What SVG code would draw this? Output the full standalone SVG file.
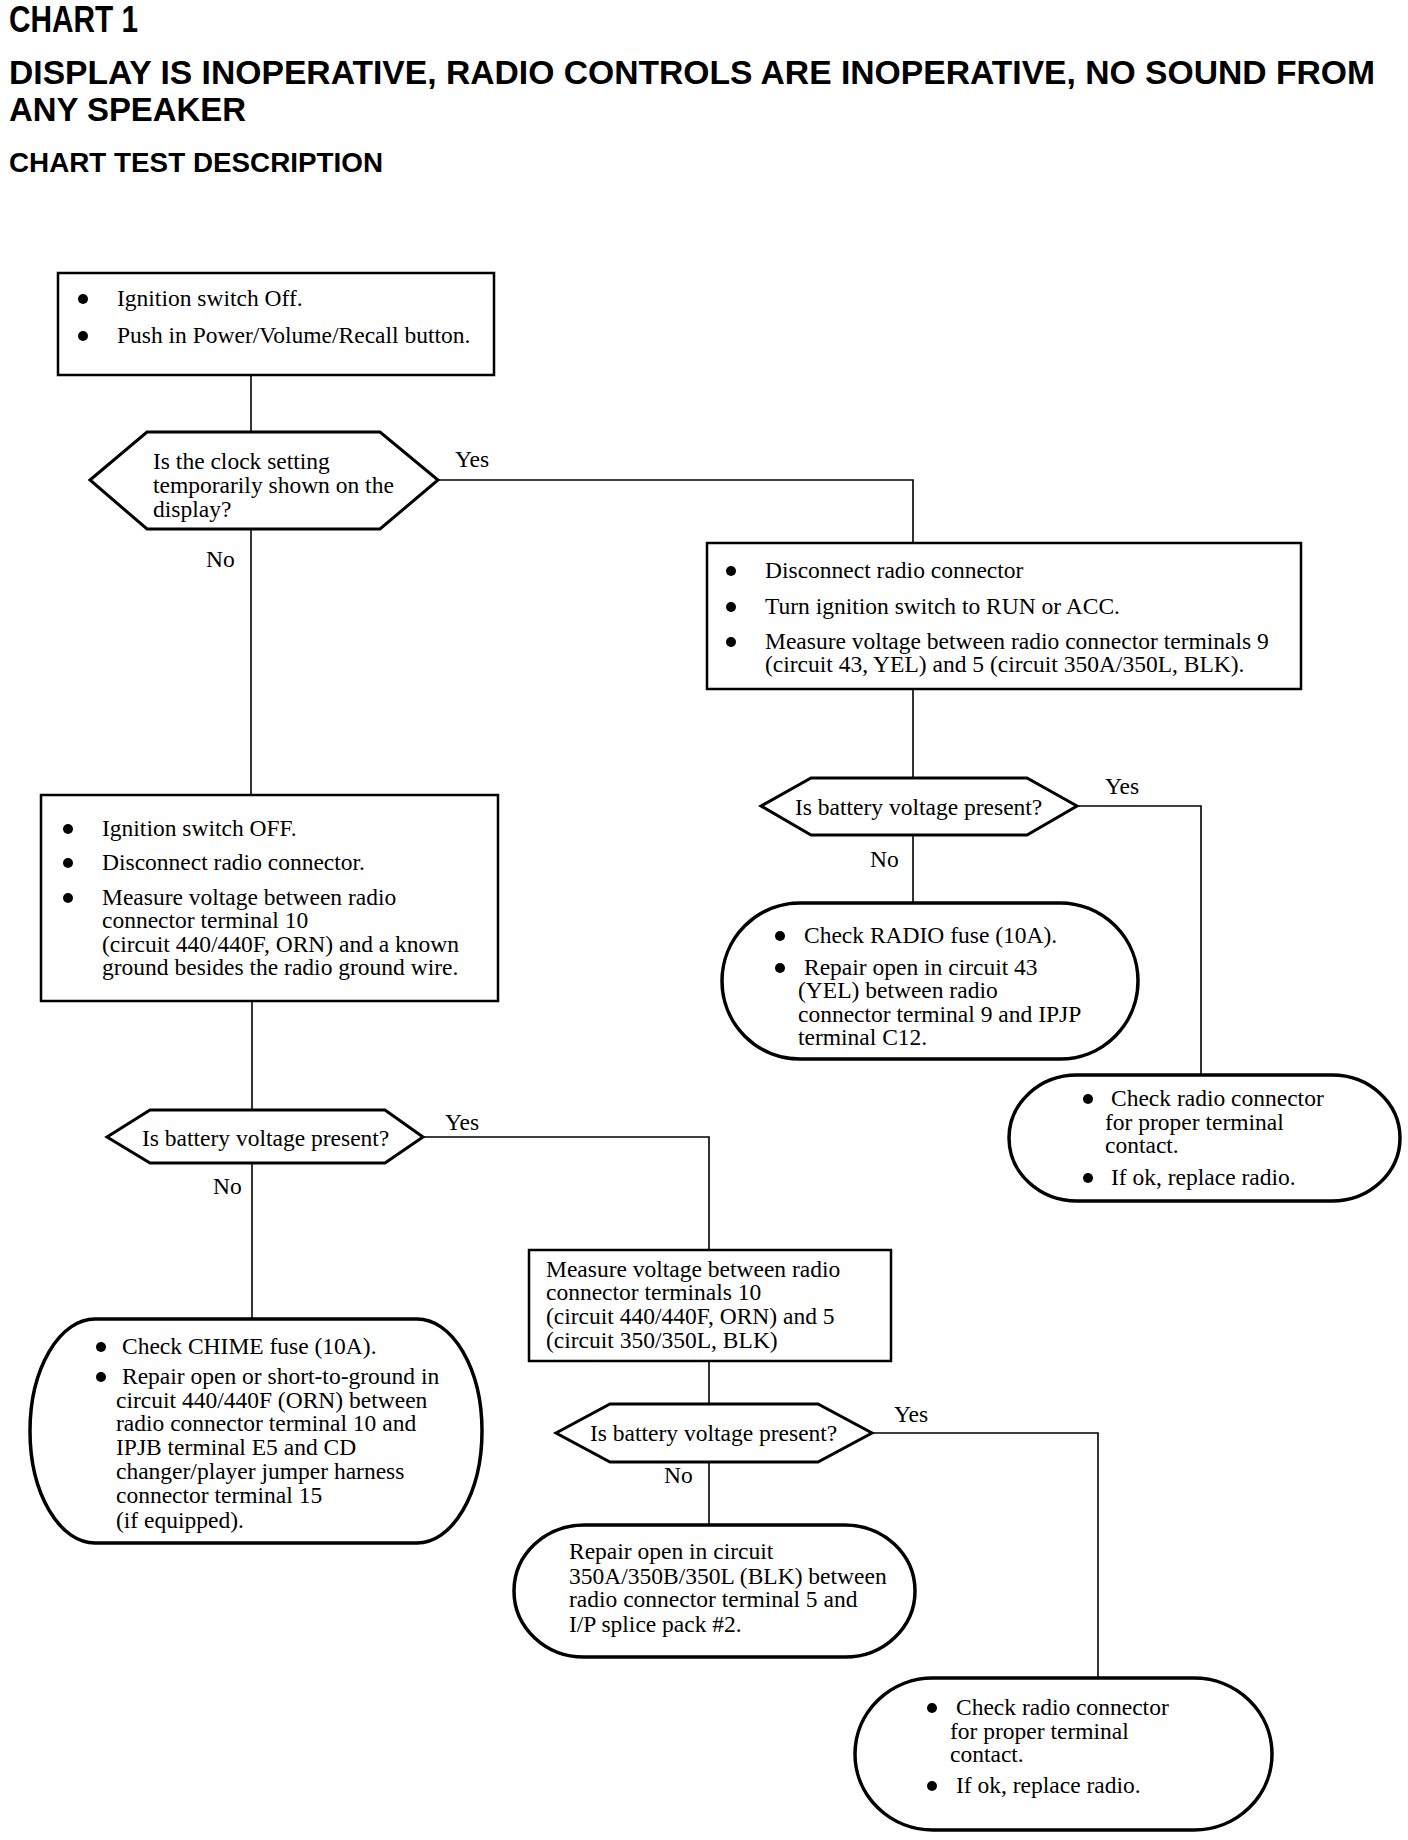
<svg xmlns="http://www.w3.org/2000/svg" width="1408" height="1840" viewBox="0 0 1408 1840">
<style>
.box{fill:#fff;stroke:#000;stroke-width:2.5}
.dec{fill:#fff;stroke:#000;stroke-width:3}
.term{fill:#fff;stroke:#000;stroke-width:3.5}
.conn{fill:none;stroke:#000;stroke-width:1.6}
.t{font-family:"Liberation Serif","Times New Roman",serif;font-size:23.5px;fill:#000}
.h{font-family:"Liberation Sans Narrow","Liberation Sans",Arial,sans-serif;font-weight:bold;fill:#000}
.b{fill:#000}
</style>
<rect width="1408" height="1840" fill="#fff"/>
<g id="title">
<text class="h" x="9" y="32" font-size="36" textLength="129" lengthAdjust="spacingAndGlyphs">CHART 1</text>
<text class="h" x="9" y="84" font-size="33" textLength="1366" lengthAdjust="spacingAndGlyphs">DISPLAY IS INOPERATIVE, RADIO CONTROLS ARE INOPERATIVE, NO SOUND FROM</text>
<text class="h" x="9" y="121" font-size="33" textLength="237" lengthAdjust="spacingAndGlyphs">ANY SPEAKER</text>
<text class="h" x="9" y="172" font-size="27" textLength="374" lengthAdjust="spacingAndGlyphs">CHART TEST DESCRIPTION</text>
</g>
<g id="connectors">
<path class="conn" d="M251,375 V432"/>
<path class="conn" d="M438,480 H913 V543"/>
<path class="conn" d="M251,529 V795"/>
<path class="conn" d="M913,689 V778"/>
<path class="conn" d="M1077,806 H1201 V1075"/>
<path class="conn" d="M913,835 V903"/>
<path class="conn" d="M252,1001 V1110"/>
<path class="conn" d="M423,1137 H709 V1250"/>
<path class="conn" d="M252,1163 V1319"/>
<path class="conn" d="M709,1361 V1404"/>
<path class="conn" d="M872,1433 H1098 V1678"/>
<path class="conn" d="M709,1462 V1525"/>
<text class="t" x="455" y="467">Yes</text>
<text class="t" x="206" y="567">No</text>
<text class="t" x="1105" y="794">Yes</text>
<text class="t" x="870" y="867">No</text>
<text class="t" x="445" y="1130">Yes</text>
<text class="t" x="213" y="1194">No</text>
<text class="t" x="894" y="1422">Yes</text>
<text class="t" x="664" y="1483">No</text>
</g>
<g id="box1">
<rect class="box" x="58" y="273" width="436" height="102"/>
<circle class="b" cx="83" cy="299" r="5"/>
<text class="t" x="117" y="306">Ignition switch Off.</text>
<circle class="b" cx="83" cy="336" r="5"/>
<text class="t" x="117" y="343">Push in Power/Volume/Recall button.</text>
</g>
<g id="decision1">
<polygon class="dec" points="90,480 147,432 380,432 438,480 380,529 147,529"/>
<text class="t" x="153" y="469">Is the clock setting</text>
<text class="t" x="153" y="493">temporarily shown on the</text>
<text class="t" x="153" y="517">display?</text>
</g>
<g id="box2">
<rect class="box" x="707" y="543" width="594" height="146"/>
<circle class="b" cx="731" cy="571" r="5"/>
<text class="t" x="765" y="578">Disconnect radio connector</text>
<circle class="b" cx="731" cy="607" r="5"/>
<text class="t" x="765" y="614">Turn ignition switch to RUN or ACC.</text>
<circle class="b" cx="731" cy="642" r="5"/>
<text class="t" x="765" y="649">Measure voltage between radio connector terminals 9</text>
<text class="t" x="765" y="672">(circuit 43, YEL) and 5 (circuit 350A/350L, BLK).</text>
</g>
<g id="decision2">
<polygon class="dec" points="761,806 811,778 1027,778 1077,806 1027,835 811,835"/>
<text class="t" x="795" y="815">Is battery voltage present?</text>
</g>
<g id="term-radio-fuse">
<rect class="term" x="722" y="903" width="416" height="156" rx="78" ry="78"/>
<circle class="b" cx="780" cy="936" r="5"/>
<text class="t" x="804" y="943">Check RADIO fuse (10A).</text>
<circle class="b" cx="780" cy="968" r="5"/>
<text class="t" x="804" y="975">Repair open in circuit 43</text>
<text class="t" x="798" y="998">(YEL) between radio</text>
<text class="t" x="798" y="1022">connector terminal 9 and IPJP</text>
<text class="t" x="798" y="1045">terminal C12.</text>
</g>
<g id="term-check1">
<rect class="term" x="1009" y="1075" width="391" height="126" rx="68" ry="63"/>
<circle class="b" cx="1088" cy="1099" r="5"/>
<text class="t" x="1111" y="1106">Check radio connector</text>
<text class="t" x="1105" y="1130">for proper terminal</text>
<text class="t" x="1105" y="1153">contact.</text>
<circle class="b" cx="1088" cy="1178" r="5"/>
<text class="t" x="1111" y="1185">If ok, replace radio.</text>
</g>
<g id="box3">
<rect class="box" x="41" y="795" width="457" height="206"/>
<circle class="b" cx="68" cy="829" r="5"/>
<text class="t" x="102" y="836">Ignition switch OFF.</text>
<circle class="b" cx="68" cy="863" r="5"/>
<text class="t" x="102" y="870">Disconnect radio connector.</text>
<circle class="b" cx="68" cy="898" r="5"/>
<text class="t" x="102" y="905">Measure voltage between radio</text>
<text class="t" x="102" y="928">connector terminal 10</text>
<text class="t" x="102" y="952">(circuit 440/440F, ORN) and a known</text>
<text class="t" x="102" y="975">ground besides the radio ground wire.</text>
</g>
<g id="decision3">
<polygon class="dec" points="107,1137 150,1110 385,1110 423,1137 385,1163 150,1163"/>
<text class="t" x="142" y="1146">Is battery voltage present?</text>
</g>
<g id="term-chime">
<rect class="term" x="30" y="1319" width="452" height="224" rx="65" ry="112"/>
<circle class="b" cx="101" cy="1347" r="5"/>
<text class="t" x="122" y="1354">Check CHIME fuse (10A).</text>
<circle class="b" cx="101" cy="1377" r="5"/>
<text class="t" x="122" y="1384">Repair open or short-to-ground in</text>
<text class="t" x="116" y="1408">circuit 440/440F (ORN) between</text>
<text class="t" x="116" y="1431">radio connector terminal 10 and</text>
<text class="t" x="116" y="1455">IPJB terminal E5 and CD</text>
<text class="t" x="116" y="1479">changer/player jumper harness</text>
<text class="t" x="116" y="1503">connector terminal 15</text>
<text class="t" x="116" y="1528">(if equipped).</text>
</g>
<g id="box4">
<rect class="box" x="529" y="1250" width="362" height="111"/>
<text class="t" x="546" y="1277">Measure voltage between radio</text>
<text class="t" x="546" y="1300">connector terminals 10</text>
<text class="t" x="546" y="1324">(circuit 440/440F, ORN) and 5</text>
<text class="t" x="546" y="1348">(circuit 350/350L, BLK)</text>
</g>
<g id="decision4">
<polygon class="dec" points="556,1433 610,1404 818,1404 872,1433 818,1462 610,1462"/>
<text class="t" x="590" y="1441">Is battery voltage present?</text>
</g>
<g id="term-350">
<rect class="term" x="514" y="1525" width="401" height="132" rx="70" ry="66"/>
<text class="t" x="569" y="1559">Repair open in circuit</text>
<text class="t" x="569" y="1584">350A/350B/350L (BLK) between</text>
<text class="t" x="569" y="1607">radio connector terminal 5 and</text>
<text class="t" x="569" y="1632">I/P splice pack #2.</text>
</g>
<g id="term-check2">
<rect class="term" x="855" y="1678" width="417" height="152" rx="78" ry="76"/>
<circle class="b" cx="932" cy="1708" r="5"/>
<text class="t" x="956" y="1715">Check radio connector</text>
<text class="t" x="950" y="1739">for proper terminal</text>
<text class="t" x="950" y="1762">contact.</text>
<circle class="b" cx="932" cy="1786" r="5"/>
<text class="t" x="956" y="1793">If ok, replace radio.</text>
</g>
</svg>
